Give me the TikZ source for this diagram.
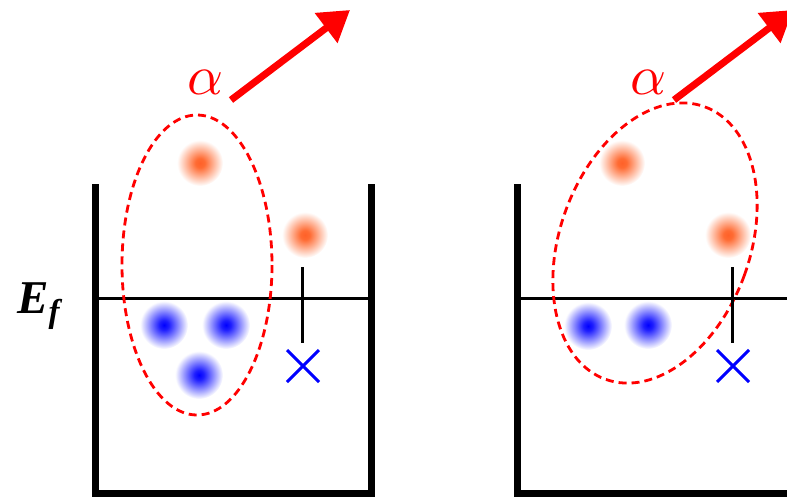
\documentclass[tikz,border=0pt]{standalone}
\usepackage{graphicx}
\usepackage{fontspec}
\newfontfamily\tms{Liberation Serif}
\usetikzlibrary{arrows.meta}
\pgfdeclareradialshading{blobred}{\pgfpoint{0bp}{0bp}}{rgb(0bp)=(1,0.38,0.16); rgb(5bp)=(1,0.42,0.2); rgb(25bp)=(1,1,1); rgb(50bp)=(1,1,1)}
\pgfdeclareradialshading{blobblue}{\pgfpoint{0bp}{0bp}}{rgb(0bp)=(0,0,1); rgb(5bp)=(0.12,0.12,1); rgb(25bp)=(1,1,1); rgb(50bp)=(1,1,1)}
\newcommand{\bigalpha}{\scalebox{5.6}{$\alpha$}}
\tikzset{
  wall/.style={line width=7pt, line cap=rect},
  fermi/.style={line width=3pt},
  tickline/.style={line width=3pt},
  cross/.style={blue, line width=3pt},
  cluster/.style={red, dashed, line width=2.8pt, dash pattern=on 8pt off 5pt},
  emit/.style={red, line width=7pt, -{Triangle[length=30pt,width=36pt]}},
  alphalbl/.style={red, inner sep=0pt},
}
\begin{document}
\begin{tikzpicture}[x=1pt,y=-1pt]
\useasboundingbox (0,0) rectangle (787,496);
% ---------- left panel ----------
\draw[wall] (95.5,187) -- (95.5,493) -- (371.5,493) -- (371.5,187);
\draw[fermi] (95.5,298.5) -- (371.5,298.5);
\node[anchor=base west, inner sep=0pt] (ef) at (17,313) {\tms\bfseries\itshape\fontsize{47}{47}\selectfont E\raisebox{-9pt}{\fontsize{33}{33}\selectfont f}};
\shade[shading=blobred] (200,163) circle (23);
\shade[shading=blobred] (305,235) circle (23);
\shade[shading=blobblue] (164,325) circle (24);
\shade[shading=blobblue] (226,325) circle (24);
\shade[shading=blobblue] (199,375) circle (24);
\draw[cluster] (197,265) ellipse [x radius=75, y radius=150];
\draw[tickline] (302,267) -- (302,343);
\draw[cross] (287,350) -- (319,382) (287,382) -- (319,350);
\node[alphalbl] (a1) at (206,82) {\bigalpha};
\coordinate (s1) at (231,100);
\coordinate (t1) at (350,10);
\draw[emit] (s1) -- (t1);
% ---------- right panel ----------
\draw[wall] (517.5,187) -- (517.5,493) -- (800,493);
\draw[fermi] (517.5,298.5) -- (800,298.5);
\shade[shading=blobred] (622,163) circle (23);
\shade[shading=blobred] (728,235) circle (23);
\shade[shading=blobblue] (588,326) circle (24);
\shade[shading=blobblue] (648,325) circle (24);
\draw[cluster, rotate around={-20:(655,243)}] (655,243) ellipse [x radius=95, y radius=145];
\draw[tickline] (732,267) -- (732,343);
\draw[cross] (717,350) -- (749,382) (717,382) -- (749,350);
\node[alphalbl] (a2) at (649,82) {\bigalpha};
\coordinate (s2) at (674,100);
\coordinate (t2) at (793,10);
\draw[emit] (s2) -- (t2);
\end{tikzpicture}
\end{document}
